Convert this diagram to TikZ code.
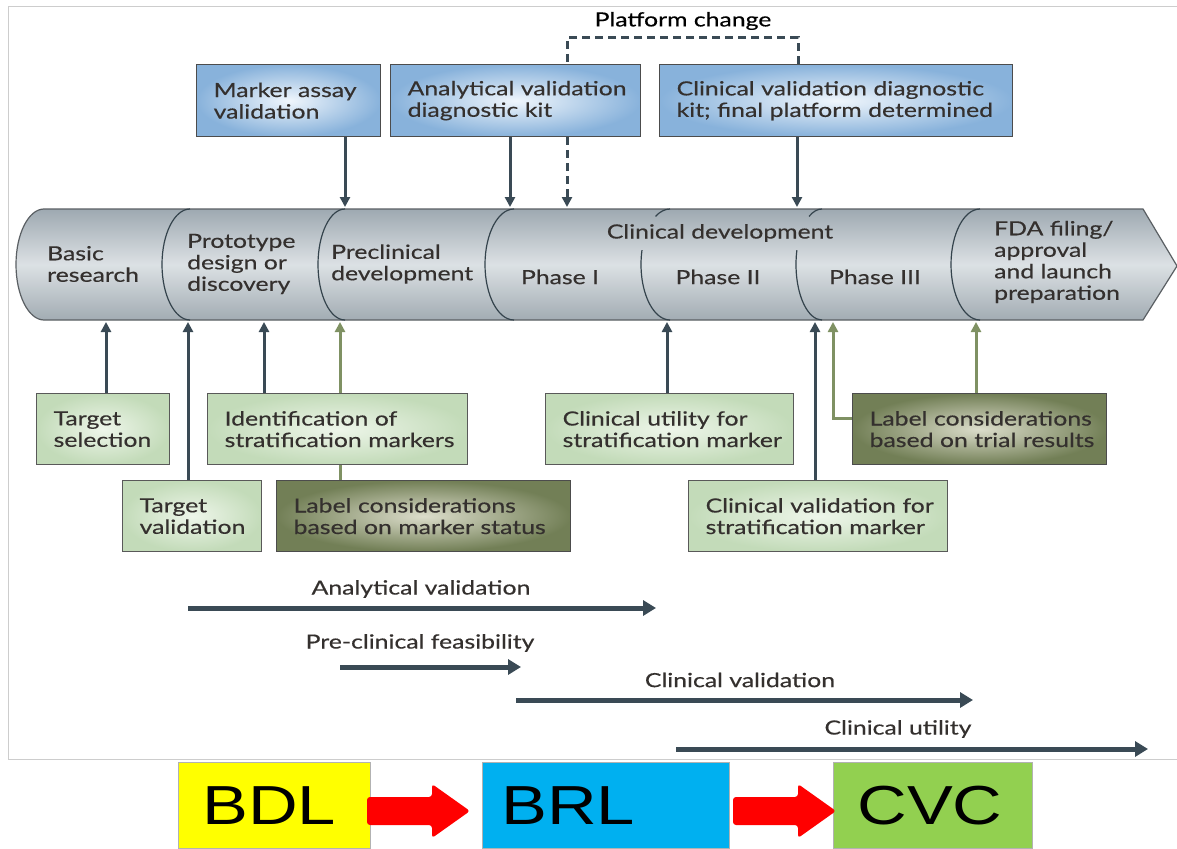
\documentclass[tikz,border=0pt]{standalone}
\usepackage{fontspec}
\setmainfont{Lato}[FakeStretch=1.27, FakeBold=0.4]
\newfontfamily\arialfont{Liberation Sans}
\usetikzlibrary{arrows.meta}

\definecolor{slate}{HTML}{3A4A55}
\definecolor{olivearr}{HTML}{7F9163}
\definecolor{txt}{HTML}{34302E}
\definecolor{framegray}{HTML}{CDCDCD}
\definecolor{bandedge}{HTML}{5A5F63}
\definecolor{bandtop}{HTML}{9EA9B1}
\definecolor{bandmid}{HTML}{DCE1E4}
\definecolor{bandbot}{HTML}{A2ACB3}
\definecolor{blueout}{HTML}{88B2DB}
\definecolor{bluein}{HTML}{F0F6FC}
\definecolor{greenout}{HTML}{C3DBB9}
\definecolor{greenin}{HTML}{EEF6EA}
\definecolor{oliveout}{HTML}{727F56}
\definecolor{olivein}{HTML}{DCDDCB}
\definecolor{bdlyellow}{HTML}{FFFF00}
\definecolor{brlblue}{HTML}{00B0F0}
\definecolor{cvcgreen}{HTML}{92D050}
\definecolor{fatred}{HTML}{FF0000}

\tikzset{
  panel/.style={rectangle, anchor=north west, align=left, inner xsep=17pt,
    inner ysep=0pt, text=txt, draw=#1, line width=1.3pt},
  bluebox/.style={panel=black!70, inner color=bluein, outer color=blueout},
  greenbox/.style={panel=black!65, inner color=greenin, outer color=greenout},
  olivebox/.style={panel=black!70, inner color=olivein, outer color=oliveout},
  darkarrow/.style={draw=slate, line width=3pt, -{Triangle[width=10pt,length=10pt]}},
  olivearrow/.style={draw=olivearr, line width=3pt, -{Triangle[width=10pt,length=10pt]}},
  spanarrow/.style={draw=slate, line width=5pt, -{Triangle[width=15pt,length=13pt]}},
  spanlabel/.style={text=txt, inner sep=0pt},
  bandtext/.style={align=left, text=txt, inner sep=0pt},
  divider/.style={draw=slate!90!black, line width=1.2pt},
  stagebox/.style={draw=black!30, line width=0.8pt, anchor=north west, inner ysep=0pt,
    align=left, minimum height=86pt, font=\arialfont\fontsize{55}{60}\selectfont},
  stagearrow/.pic={\fill[fatred, rounded corners=3pt] (0,-14) -- (65,-14) -- (65,-27)
    -- (103,0) -- (65,27) -- (65,14) -- (0,14) -- cycle;},
}

\begin{document}
\hyphenpenalty=10000
\exhyphenpenalty=10000
\begin{tikzpicture}[x=1pt, y=-1pt, font=\fontsize{19.5}{21.5}\selectfont]
\useasboundingbox (0,0) rectangle (1177,848);
\fill[white] (0,0) rectangle (1177,848);

% outer frame of the figure
\draw[framegray, line width=1pt] (1177,7) -- (8.5,7) -- (8.5,759.5) -- (1177,759.5);

% the development pipeline band
\path[draw=bandedge, line width=1.2pt, top color=bandtop, bottom color=bandbot, middle color=bandmid]
  (44,209) -- (1143,209) -- (1177,266) -- (1143,320) -- (44,320)
  arc[start angle=90, end angle=270, x radius=28, y radius=55.5] -- cycle;

% section boundaries
\draw[divider] (190,209) arc[start angle=270, end angle=90, x radius=28, y radius=55.5];
\draw[divider] (345,209) arc[start angle=270, end angle=90, x radius=27, y radius=55.5];
\draw[divider] (514,209) arc[start angle=270, end angle=90, x radius=29, y radius=55.5];
\draw[divider] (670,209) arc[start angle=270, end angle=240, x radius=29, y radius=55.5];
\draw[divider] (670,264.5) ++(195:29 and 55.5) arc[start angle=195, end angle=90, x radius=29, y radius=55.5];
\draw[divider] (822,209) arc[start angle=270, end angle=240, x radius=26, y radius=55.5];
\draw[divider] (822,264.5) ++(195:26 and 55.5) arc[start angle=195, end angle=90, x radius=26, y radius=55.5];
\draw[divider] (980,209) arc[start angle=270, end angle=90, x radius=29, y radius=55.5];

% stage names
\node[bandtext, anchor=west] (basic) at (47,264) {Basic\\research};
\node[bandtext, anchor=west] (proto) at (187,264) {Prototype\\design or\\discovery};
\node[bandtext, anchor=west] (precl) at (331,264) {Preclinical\\development};
\node[bandtext] (clindev) at (720,233) {Clinical development};
\node[bandtext] (ph1) at (560,277) {Phase I};
\node[bandtext] (ph2) at (718,277) {Phase II};
\node[bandtext] (ph3) at (875,277) {Phase III};
\node[bandtext, anchor=west] (fda) at (994,262) {FDA filing/\\approval\\and launch\\preparation};

% points on the band edges
\coordinate (t345) at (345,207);
\coordinate (t510) at (510,207);
\coordinate (t567) at (567,207);
\coordinate (t797) at (797,207);
\coordinate (b106) at (106,322);
\coordinate (b188) at (188,322);
\coordinate (b264) at (264,322);
\coordinate (b340) at (340,322);
\coordinate (b667) at (667,322);
\coordinate (b815) at (815,322);
\coordinate (b833) at (833,322);
\coordinate (b976) at (976,322);

% diagnostic kit boxes
\node[bluebox, text width=150pt, minimum height=72pt] (marker) at (196,64) {\mbox{Marker assay}\\\mbox{validation}};
\node[bluebox, text width=216pt, minimum height=72pt] (anval) at (390,64) {\mbox{Analytical validation}\\\mbox{diagnostic kit}};
\node[bluebox, text width=319pt, minimum height=72pt] (clinval) at (659,64) {\mbox{Clinical validation diagnostic}\\\mbox{kit; final platform determined}};

\draw[darkarrow] (marker.south -| t345) -- (t345);
\draw[darkarrow] (anval.south -| t510) -- (t510);
\draw[darkarrow] (clinval.south -| t797) -- (t797);

% platform change loop
\node (platform) at (683,21) {Platform change};
\coordinate (pc1) at (798,38);
\coordinate (pc2) at (567,38);
\draw[slate, line width=3pt, dash pattern=on 8pt off 5pt] (clinval.north -| pc1) -- (pc1) -- (pc2) -- (anval.north -| pc2);
\draw[slate, line width=3pt, dash pattern=on 8pt off 5pt, -{Triangle[width=10pt,length=10pt]}] (anval.south -| t567) -- (t567);

% biomarker boxes
\node[greenbox, text width=99pt, minimum height=71pt] (tsel) at (36,393) {\mbox{Target}\\\mbox{selection}};
\node[greenbox, text width=105pt, minimum height=71pt] (tval) at (122,480) {\mbox{Target}\\\mbox{validation}};
\node[greenbox, text width=226pt, minimum height=71pt] (ident) at (207,393) {\mbox{Identification of}\\\mbox{stratification markers}};
\node[olivebox, text width=260pt, minimum height=71pt] (label1) at (276,480) {\mbox{Label considerations}\\\mbox{based on marker status}};
\node[greenbox, text width=214pt, minimum height=71pt] (cutil) at (545,393) {\mbox{Clinical utility for}\\\mbox{stratification marker}};
\node[greenbox, text width=225pt, minimum height=71pt] (cvs) at (688,480) {\mbox{Clinical validation for}\\\mbox{stratification marker}};
\node[olivebox, text width=220pt, minimum height=71pt] (label2) at (852,393) {\mbox{Label considerations}\\\mbox{based on trial results}};

\draw[darkarrow] (tsel.north -| b106) -- (b106);
\draw[darkarrow] (tval.north -| b188) -- (b188);
\draw[darkarrow] (ident.north -| b264) -- (b264);
\draw[olivearr, line width=3pt] (label1.north -| b340) -- (ident.south -| b340);
\draw[olivearrow] (ident.north -| b340) -- (b340);
\draw[darkarrow] (cutil.north -| b667) -- (b667);
\draw[darkarrow] (cvs.north -| b815) -- (b815);
\draw[olivearrow] (label2.west |- 0,418) -| (b833);
\draw[olivearrow] (label2.north -| b976) -- (b976);

% validation phases
\coordinate (av1) at (188,608); \coordinate (av2) at (656,608);
\coordinate (pf1) at (340,667); \coordinate (pf2) at (521,667);
\coordinate (cv1) at (516,700); \coordinate (cv2) at (973,700);
\coordinate (cu1) at (676,749); \coordinate (cu2) at (1148,749);
\draw[spanarrow] (av1) -- (av2);
\draw[spanarrow] (pf1) -- (pf2);
\draw[spanarrow] (cv1) -- (cv2);
\draw[spanarrow] (cu1) -- (cu2);
\node[spanlabel] (avl) at (421,589) {Analytical validation};
\node[spanlabel] (pfl) at (420,643) {Pre-clinical feasibility};
\node[spanlabel] (cvl) at (740,680) {Clinical validation};
\node[spanlabel] (cul) at (898,729) {Clinical utility};

% BDL -> BRL -> CVC
\node[stagebox, fill=bdlyellow, inner xsep=24pt, text width=144pt] (bdl) at (178,762) {\scalebox{1.25}[1]{BDL}};
\node[stagebox, fill=brlblue, inner xsep=19pt, text width=209pt] (brl) at (482,762) {\scalebox{1.25}[1]{BRL}};
\node[stagebox, fill=cvcgreen, inner xsep=24pt, text width=151pt] (cvc) at (833,762) {\scalebox{1.25}[1]{CVC}};
\pic at (367,811) {stagearrow};
\pic at (733,811) {stagearrow};
\end{tikzpicture}
\end{document}
